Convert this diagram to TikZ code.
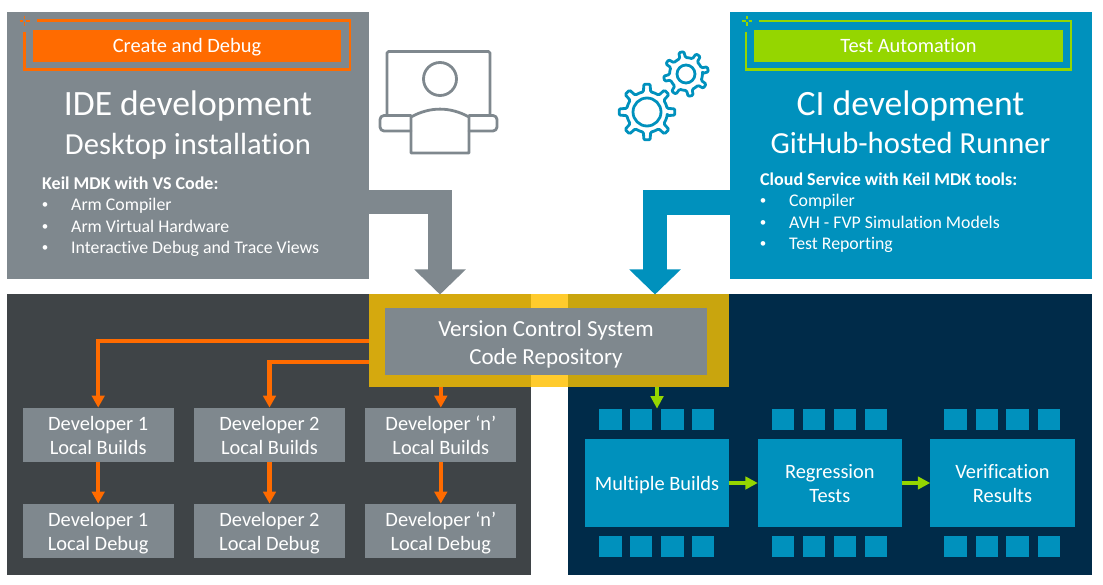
\documentclass[tikz,border=0pt]{standalone}
\usepackage{fontspec}
\setmainfont{Carlito}[Ligatures=NoCommon]
\newfontfamily\bulletfont{Liberation Sans}
\usetikzlibrary{arrows.meta,calc}
\definecolor{armgrey}{HTML}{7F888E}
\definecolor{armblue}{HTML}{0091BD}
\definecolor{armnavy}{HTML}{002B49}
\definecolor{armdark}{HTML}{3F4447}
\definecolor{armorange}{HTML}{FF6B00}
\definecolor{armgreen}{HTML}{95D600}
\definecolor{yellowL}{HTML}{D5A90E}
\definecolor{yellowM}{HTML}{FFCB2D}
\definecolor{yellowR}{HTML}{C9A50E}
% text set on fixed baselines, measured from the centre of its box
\newcommand{\oneat}[2]{\makebox[0pt]{\raisebox{#2}[0pt][0pt]{#1}}}
\newcommand{\twoat}[4]{\oneat{#1}{#3}\oneat{#2}{#4}}
\newcommand{\boxlines}[2]{\twoat{#1}{#2}{4.5pt}{-20pt}}
\tikzset{
  block/.style={inner sep=0pt,outer sep=0pt,text=white,anchor=center},
  boxfont/.style={font=\fontsize{20.4}{24.5}\selectfont},
  greybox/.style={block,boxfont,fill=armgrey,minimum width=151pt,minimum height=54.5pt},
  bluebox/.style={block,boxfont,fill=armblue,minimum width=144.5pt,minimum height=88.5pt},
  chip/.style={inner sep=0pt,outer sep=0pt,fill=armblue,minimum width=22.5pt,minimum height=21.5pt,anchor=center},
  bartext/.style={block,font=\fontsize{20.4}{22}\selectfont},
  bighead/.style={inner sep=0pt,text=white,anchor=base,font=\fontsize{35.6}{40}\selectfont},
  subhead/.style={inner sep=0pt,text=white,anchor=base,font=\fontsize{30.6}{34}\selectfont},
  listhead/.style={inner sep=0pt,text=white,anchor=base west,font=\fontsize{18}{20}\selectfont\bfseries},
  listitem/.style={inner sep=0pt,text=white,anchor=base west,font=\fontsize{17.8}{20}\selectfont},
  listdot/.style={inner sep=0pt,text=white,anchor=base west,font=\fontsize{17}{20}\bulletfont},
  orangearrow/.style={draw=armorange,line width=4.2pt,-{Triangle[width=12.5pt,length=12pt]}},
  greenarrow/.style={draw=armgreen,line width=3.8pt,-{Triangle[width=12.5pt,length=12.5pt]}},
  feed/.style={line width=24.5pt,-{Triangle[width=50pt,length=25pt]}},
  icon/.style={line width=2.8pt,line join=round,line cap=round},
}
\newcommand{\gearicon}[6]{%
  \draw[icon,draw=armblue,rounded corners=1.2pt]
    ($(#1,#2)+(#6-10:#4 pt)$)
    \foreach \ang in {0,45,...,315}{
      -- ($(#1,#2)+(\ang+#6-10:#4 pt)$)
      -- ($(#1,#2)+(\ang+#6-6.5:#3 pt)$)
      -- ($(#1,#2)+(\ang+#6+6.5:#3 pt)$)
      -- ($(#1,#2)+(\ang+#6+10:#4 pt)$)
      -- ($(#1,#2)+(\ang+#6+22.5:#4 pt)$)
    } -- cycle;
  \draw[icon,draw=armblue] (#1,#2) circle[radius=#5 pt];
}
\newcommand{\sparkle}[3]{%
  \draw[draw=#3,line width=1.8pt] (#1-5,#2)--(#1-1.5,#2) (#1+1.5,#2)--(#1+5,#2) (#1,#2-5)--(#1,#2-1.5) (#1,#2+1.5)--(#1,#2+5);
}
\begin{document}
\begin{tikzpicture}[x=1pt,y=-1pt]
\useasboundingbox (0,0) rectangle (1103,585);
% bottom panels
\node[block,fill=armdark,minimum width=524pt,minimum height=280pt] (devpanel) at (269,434.5) {};
\node[block,fill=armnavy,minimum width=524pt,minimum height=280pt] (cipanel) at (830,434.5) {};
% top panels
\node[block,fill=armgrey,minimum width=362pt,minimum height=266.5pt] (ide) at (188,145.75) {};
\node[block,fill=armblue,minimum width=362.5pt,minimum height=266.5pt] (ci) at (910.75,145.75) {};
% VCS frame
\fill[yellowL] (369,294.5) rectangle (531,386.7);
\fill[yellowM] (531,294.5) rectangle (568,386.7);
\fill[yellowR] (568,294.5) rectangle (729,386.7);
\node[inner sep=0pt,outer sep=0pt,minimum width=360pt,minimum height=92.2pt] (frame) at (549,340.6) {};
\node[block,fill=armgrey,minimum width=322pt,minimum height=66.7pt,font=\fontsize{23}{28}\selectfont] (vcs) at (546,341.35) {\twoat{Version Control System}{Code Repository}{5.3pt}{-22.7pt}};
% feed arrows
\coordinate (ideIn) at (440,294.5);
\coordinate (ciIn) at (655,294.5);
\draw[feed,draw=armgrey] ([yshift=-56.25pt]ide.east) -| (ideIn);
\draw[feed,draw=armblue] ([yshift=-56.75pt]ci.west) -| (ciIn);
% left banner
\sparkle{24.5}{21}{armorange}
\draw[draw=armorange,line width=2.4pt] (37,20.5) -- (350,20.5) -- (350,69.5) -- (24.5,69.5) -- (24.5,32);
\node[bartext,fill=armorange,minimum width=308.5pt,minimum height=32pt] (createbar) at (187,46) {\oneat{Create and Debug}{-7pt}};
\node[bighead] (idetitle) at (188,116) {IDE development};
\node[subhead] (idesub) at (188,155) {Desktop installation};
\node[listhead] (idelist) at (42,190) {Keil MDK with VS Code:};
\node[listdot] (ib1) at (42,211) {•};
\node[listitem] (it1) at (71,211) {Arm Compiler};
\node[listdot] (ib2) at (42,233) {•};
\node[listitem] (it2) at (71,233) {Arm Virtual Hardware};
\node[listdot] (ib3) at (42,254) {•};
\node[listitem] (it3) at (71,254) {Interactive Debug and Trace Views};
% right banner
\sparkle{747}{21}{armgreen}
\draw[draw=armgreen,line width=2.4pt] (759,21) -- (1071,21) -- (1071,69.5) -- (746,69.5) -- (746,32);
\node[bartext,fill=armgreen,minimum width=309pt,minimum height=32pt] (testbar) at (908.5,46) {\oneat{Test Automation}{-7pt}};
\node[bighead] (cititle) at (910.5,116) {CI development};
\node[subhead] (cisub) at (910.5,154) {GitHub-hosted Runner};
\node[listhead] (cilist) at (760,186) {Cloud Service with Keil MDK tools:};
\node[listdot] (cb1) at (760,207) {•};
\node[listitem] (ct1) at (789,207) {Compiler};
\node[listdot] (cb2) at (760,229) {•};
\node[listitem] (ct2) at (789,229) {AVH - FVP Simulation Models};
\node[listdot] (cb3) at (760,250) {•};
\node[listitem] (ct3) at (789,250) {Test Reporting};
% laptop icon
\draw[icon,draw=armgrey,rounded corners=1.5pt] (387,114) -- (387,51.5) -- (490,51.5) -- (490,114);
\draw[icon,draw=armgrey] (440,79) circle[radius=16.5pt];
\draw[icon,draw=armgrey,rounded corners=4pt] (411,115.5) -- (380,115.5) -- (380,131) -- (411,131);
\draw[icon,draw=armgrey,rounded corners=4pt] (469,115.5) -- (497,115.5) -- (497,131) -- (469,131);
\draw[icon,draw=armgrey] (411,117) .. controls (430,106.5) and (450,106.5) .. (469,117) -- (469,153) -- (411,153) -- cycle;
% gears
\gearicon{647}{112}{28}{20.5}{14}{0}
\gearicon{686}{74}{22.5}{16.5}{9}{12}
% developer boxes
\node[greybox] (d1b) at (98.2,434.9) {\boxlines{Developer 1}{Local Builds}};
\node[greybox] (d2b) at (269.5,434.9) {\boxlines{Developer 2}{Local Builds}};
\node[greybox] (dnb) at (440.8,434.9) {\boxlines{Developer ‘n’}{Local Builds}};
\node[greybox] (d1d) at (98.2,530.9) {\boxlines{Developer 1}{Local Debug}};
\node[greybox] (d2d) at (269.5,530.9) {\boxlines{Developer 2}{Local Debug}};
\node[greybox] (dnd) at (440.8,530.9) {\boxlines{Developer ‘n’}{Local Debug}};
\draw[orangearrow] (frame.west) -| (d1b.north);
\draw[orangearrow] ([yshift=-21pt]frame.west) -| (d2b.north);
\draw[orangearrow] (dnb.north |- frame.south) -- (dnb.north);
\draw[orangearrow] (d1b) -- (d1d);
\draw[orangearrow] (d2b) -- (d2d);
\draw[orangearrow] (dnb) -- (dnd);
% CI boxes
\node[bluebox] (mb) at (657,483) {\oneat{Multiple Builds}{-7.5pt}};
\node[bluebox,minimum width=144pt] (rt) at (829.8,483) {\twoat{Regression}{Tests}{4.7pt}{-19.8pt}};
\node[bluebox] (vr) at (1002.5,483) {\twoat{Verification}{Results}{4.7pt}{-19.8pt}};
\foreach \n/\cx in {a/610.3,b/641,c/672.3,d/703.2,e/783,f/814,g/845,h/875.8,i/955.7,j/986.8,k/1017.7,l/1049}{
  \node[chip] (top\n) at (\cx,419.4) {};
  \node[chip] (bot\n) at (\cx,546.4) {};
}
\draw[greenarrow] (mb.north |- frame.south) -- (mb.north |- topb.north);
\draw[greenarrow] (mb) -- (rt);
\draw[greenarrow] (rt) -- (vr);
\end{tikzpicture}
\end{document}
